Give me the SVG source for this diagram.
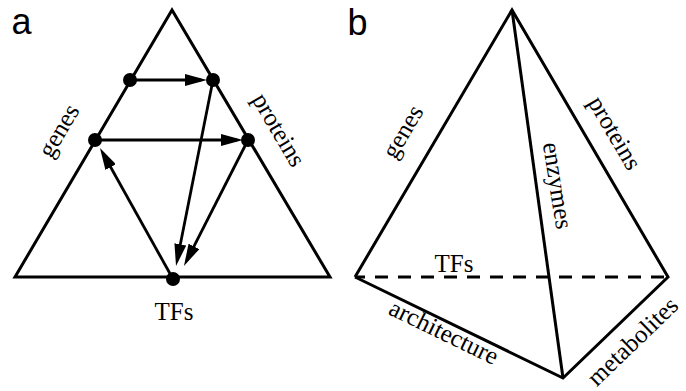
<svg xmlns="http://www.w3.org/2000/svg" width="686" height="391" viewBox="0 0 686 391">
<style>
.edge{fill:none;stroke:#000;stroke-width:3;stroke-linejoin:miter}
.arr{fill:none;stroke:#000;stroke-width:2.8;marker-end:url(#ah)}
.dash{fill:none;stroke:#000;stroke-width:3;stroke-dasharray:13 10;stroke-dashoffset:3}
.lbl{font-family:"Liberation Serif","Times New Roman",serif;font-size:25px;fill:#000;text-anchor:middle}
.pan{font-family:"Liberation Sans",Arial,sans-serif;font-size:36px;fill:#000}
.dot{fill:#000}
</style>
<defs>
<marker id="ah" markerUnits="userSpaceOnUse" markerWidth="22" markerHeight="12" refX="16" refY="6" orient="auto">
<path d="M0,0 L22,6 L0,12 z" fill="#000"/>
</marker>
</defs>
<rect width="686" height="391" fill="#fff"/>
<g id="panel-a">
<text class="pan" x="11.5" y="34">a</text>
<polygon id="triangle" class="edge" points="172,10 15,277 330,277"/>
<g id="connectors">
<line class="arr" x1="130" y1="80" x2="201" y2="80"/>
<line class="arr" x1="95" y1="140" x2="237" y2="140"/>
<line class="arr" x1="173" y1="279" x2="102.9" y2="153.2"/>
<line class="arr" x1="213" y1="80" x2="177.2" y2="260.1"/>
<line class="arr" x1="248" y1="140" x2="186.7" y2="260.6"/>
</g>
<g id="node-genes-upper"><circle class="dot" cx="130" cy="80" r="7"/></g>
<g id="node-proteins-upper"><circle class="dot" cx="213" cy="80" r="7"/></g>
<g id="node-genes-lower"><circle class="dot" cx="95" cy="140" r="7"/></g>
<g id="node-proteins-lower"><circle class="dot" cx="248" cy="140" r="7"/></g>
<g id="node-tfs"><circle class="dot" cx="173" cy="279" r="7"/></g>
<text class="lbl" transform="translate(61,132) rotate(-59.5)" y="5.5">genes</text>
<text class="lbl" transform="translate(277,131) rotate(59.5)" y="6">proteins</text>
<text class="lbl" x="174" y="320">TFs</text>
</g>
<g id="panel-b">
<text class="pan" x="347.5" y="35">b</text>
<g id="tetrahedron">
<polyline class="edge" points="355,277 512,10 668,277 563,378 355,277"/>
<line class="edge" x1="512" y1="10" x2="563" y2="378"/>
<line class="dash" x1="355" y1="277" x2="668" y2="277"/>
</g>
<text class="lbl" transform="translate(405,133) rotate(-59.5)" y="5.5">genes</text>
<text class="lbl" transform="translate(613,134) rotate(59.7)" y="6">proteins</text>
<text class="lbl" transform="translate(555,186) rotate(81)" y="5.5">enzymes</text>
<text class="lbl" x="454" y="272">TFs</text>
<text class="lbl" transform="translate(443,334) rotate(25.9)" y="6">architecture</text>
<text class="lbl" transform="translate(634,343) rotate(-43.9)" y="6">metabolites</text>
</g>
</svg>
